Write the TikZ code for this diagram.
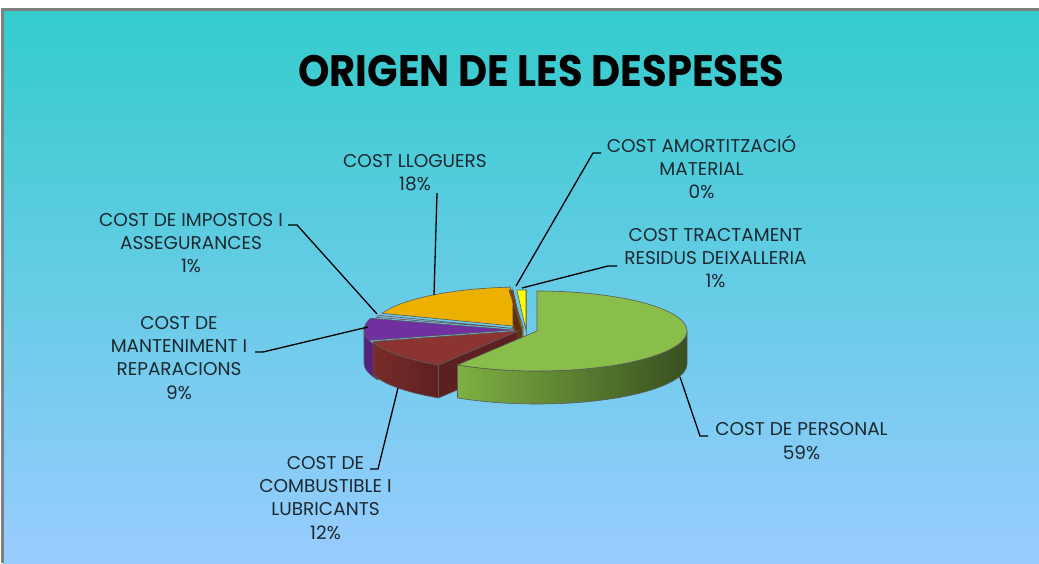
\documentclass[tikz,border=0pt]{standalone}
\usepackage{fontspec}
\setmainfont{Poppins}
\newfontfamily\titlefont[FakeStretch=0.91]{Poppins}

\definecolor{bgtop}{RGB}{51,204,204}
\definecolor{bgbottom}{RGB}{153,204,255}
\definecolor{grnTop}{RGB}{138,190,74}
\definecolor{grnLight}{RGB}{126,176,66}
\definecolor{grnDark}{RGB}{56,80,32}
\definecolor{redTop}{RGB}{140,52,50}
\definecolor{redSide}{RGB}{122,44,42}
\definecolor{redFace}{RGB}{92,32,32}
\definecolor{purTop}{RGB}{112,48,160}
\definecolor{purSide}{RGB}{86,34,128}
\definecolor{orgTop}{RGB}{236,176,0}
\definecolor{orgFace}{RGB}{170,120,0}
\definecolor{brnTop}{RGB}{128,64,0}
\definecolor{brnFace}{RGB}{96,46,0}
\definecolor{yelTop}{RGB}{255,255,0}
\definecolor{yelFace}{RGB}{200,200,0}
\definecolor{impTop}{RGB}{141,180,226}
\definecolor{txt}{RGB}{28,40,48}

\newcommand{\lblsize}{\fontsize{18.5}{23.3}\selectfont}

\begin{document}
\begin{tikzpicture}[x=1pt, y=1pt,
    lbl/.style={font=\lblsize, align=center, text=txt, inner sep=0pt, anchor=base},
    leader/.style={draw=black, line width=1.3pt},
    slicetop/.style={draw=black!65, line width=0.6pt},
    sliceside/.style={draw=black!65, line width=0.6pt}]
    \useasboundingbox (0,0) rectangle (1039,563);

    % Background
    \fill[white] (0,0) rectangle (1039,563);
    \shade[top color=bgtop, bottom color=bgbottom] (2.5,0) rectangle (1039,553);
    \draw[gray, line width=3pt] (2.5,0) -- (2.5,553) -- (1039,553);

    % Title
    \node[font=\titlefont\bfseries\fontsize{44}{50}\selectfont, anchor=base, inner sep=0pt] (title) at (541.5,476) {ORIGEN DE LES DESPESES};

    % Back slices
    \begin{scope}[shift={(523,236)}]
        \filldraw[sliceside, fill=orgFace] (0,0) -- (95:150 and 40) -- ++(0,-33) -- (0,-33) -- cycle;
        \filldraw[slicetop, fill=orgTop] (0,0) -- (95:150 and 40) arc[start angle=95, end angle=160, x radius=150, y radius=40] -- cycle;
    \end{scope}
    \begin{scope}[shift={(520,234)}]
        \filldraw[slicetop, fill=impTop] (0,0) -- (160:150 and 40) arc[start angle=160, end angle=163, x radius=150, y radius=40] -- cycle;
    \end{scope}
    \begin{scope}[shift={(522,233)}]
        \filldraw[sliceside, fill=brnFace] (0,0) -- (93.5:150 and 40) -- ++(0,-33) -- (0,-33) -- cycle;
        \filldraw[slicetop, fill=brnTop] (0,0) -- (93.5:150 and 40) arc[start angle=93.5, end angle=95, x radius=150, y radius=40] -- cycle;
    \end{scope}
    \begin{scope}[shift={(526,233)}]
        \filldraw[sliceside, fill=yelFace] (0,0) -- (90:150 and 40) -- ++(0,-33) -- (0,-33) -- cycle;
        \filldraw[slicetop, fill=yelTop] (0,0) -- (90:150 and 40) arc[start angle=90, end angle=93.5, x radius=150, y radius=40] -- cycle;
    \end{scope}

    % Front slices
    \begin{scope}[shift={(514,233)}]
        \filldraw[sliceside, fill=purSide] (180:150 and 40) arc[start angle=180, end angle=205, x radius=150, y radius=40] -- ++(0,-33) arc[start angle=205, end angle=180, x radius=150, y radius=40] -- cycle;
        \filldraw[slicetop, fill=purTop] (0,0) -- (163:150 and 40) arc[start angle=163, end angle=195, x radius=150, y radius=40] -- cycle;
    \end{scope}
    \begin{scope}[shift={(518,232)}]
        \shadedraw[sliceside, left color=redSide, right color=redFace] (195:150 and 40) arc[start angle=195, end angle=238, x radius=150, y radius=40] -- ++(0,-33) arc[start angle=238, end angle=195, x radius=150, y radius=40] -- cycle;
        \filldraw[sliceside, fill=redFace] (0,0) -- (238:150 and 40) -- ++(0,-33) -- (0,-33) -- cycle;
        \filldraw[slicetop, fill=redTop] (0,0) -- (195:150 and 40) arc[start angle=195, end angle=238, x radius=150, y radius=40] -- cycle;
    \end{scope}
    \begin{scope}[shift={(537,232)}]
        \shadedraw[sliceside, left color=grnLight, right color=grnDark] (238:150 and 40) arc[start angle=238, end angle=360, x radius=150, y radius=40] -- ++(0,-33) arc[start angle=360, end angle=238, x radius=150, y radius=40] -- cycle;
        \filldraw[slicetop, fill=grnTop] (0,0) -- (238:150 and 40) arc[start angle=238, end angle=450, x radius=150, y radius=40] -- cycle;
    \end{scope}

    % Slice points
    \coordinate (p-lloguers) at (434,268);
    \coordinate (p-impostos) at (377,249);
    \coordinate (p-manteniment) at (368,236);
    \coordinate (p-combustible) at (398,175);
    \coordinate (p-personal) at (680,186);
    \coordinate (p-tractament) at (522,275);
    \coordinate (p-amortitzacio) at (516,277);

    % Labels (base = last line)
    \node[lbl] (lbl-lloguers) at (415,372) {COST LLOGUERS\\18\%};
    \node[lbl] (lbl-impostos) at (191,290) {COST DE IMPOSTOS I\\ASSEGURANCES\\1\%};
    \node[lbl] (lbl-manteniment) at (179,164) {COST DE\\MANTENIMENT I\\REPARACIONS\\9\%};
    \node[lbl] (lbl-combustible) at (325.5,24) {COST DE\\COMBUSTIBLE I\\LUBRICANTS\\12\%};
    \node[lbl] (lbl-personal) at (801.5,104) {COST DE PERSONAL\\59\%};
    \node[lbl] (lbl-tractament) at (715.5,275) {COST TRACTAMENT\\RESIDUS DEIXALLERIA\\1\%};
    \node[lbl] (lbl-amortitzacio) at (701.5,364) {COST AMORTITZACIÓ\\MATERIAL\\0\%};

    % Tick ends
    \coordinate (t-impostos) at (288,338);
    \coordinate (t-manteniment) at (255,211);
    \coordinate (t-combustible) at (370,94);
    \coordinate (t-personal) at (708,127);
    \coordinate (t-tractament) at (617,297);
    \coordinate (t-amortitzacio) at (601,410);

    % Leader lines
    \draw[leader] (p-lloguers) -- (437,370);
    \draw[leader] (p-impostos) -- ++(-80,89) -- (t-impostos);
    \draw[leader] (p-manteniment) -- ++(-105,-25) -- (t-manteniment);
    \draw[leader] (p-combustible) -- ++(-20,-81) -- (t-combustible);
    \draw[leader] (p-personal) -- ++(20,-59) -- (t-personal);
    \draw[leader] (p-tractament) -- ++(86,22) -- (t-tractament);
    \draw[leader] (p-amortitzacio) -- ++(77,133) -- (t-amortitzacio);
\end{tikzpicture}
\end{document}
